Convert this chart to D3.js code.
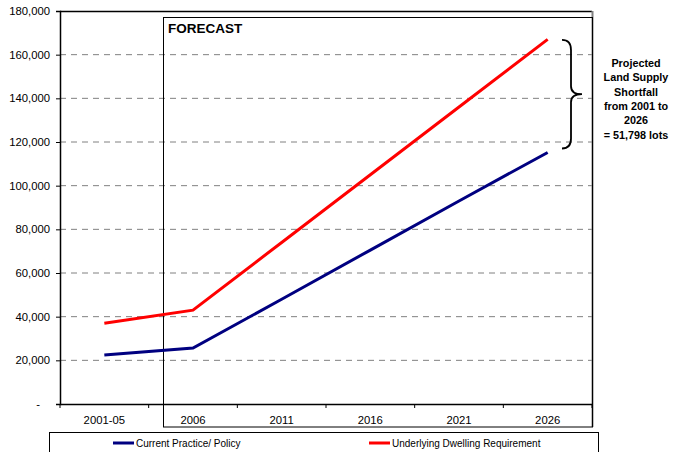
<!DOCTYPE html>
<html><head><meta charset="utf-8">
<script src="https://cdn.jsdelivr.net/npm/d3@7"></script>
<style>body{margin:0;background:#fff}svg{display:block;font-family:"Liberation Sans",Arial,sans-serif}</style>
</head><body><svg id="c" width="680" height="452"></svg>
<script>
const categories = ["2001-05","2006","2011","2016","2021","2026"];
const currentPractice = [22400, 25600, 48000, 70500, 93000, 115200];
const dwellingRequirement = [37000, 43000, 74000, 105000, 136000, 167000];
const yTicks = [0,20000,40000,60000,80000,100000,120000,140000,160000,180000];
const seriesNames = ["Current Practice/ Policy","Underlying Dwelling Requirement"];
const noteLines = ["Projected","Land Supply","Shortfall","from 2001 to","2026","= 51,798 lots"];

const svg = d3.select("#c");
const L=60,R=592,T=11,B=404;
const x = d3.scaleBand().domain(categories).range([L,R]);
const y = d3.scaleLinear().domain([0,180000]).range([B,T]);
const fmt = d => d===0 ? "-" : d3.format(",")(d);

// grid
svg.append("g").selectAll("line").data(yTicks.filter(d=>d>0&&d<180000)).join("line")
  .attr("x1",L).attr("x2",R).attr("y1",d=>y(d)).attr("y2",d=>y(d))
  .attr("stroke","#808080").attr("stroke-width",1).attr("stroke-dasharray","6,5");

// frame
svg.append("line").attr("x1",L).attr("x2",R).attr("y1",T+0.5).attr("y2",T+0.5).attr("stroke","#000").attr("stroke-width",1.3);
svg.append("line").attr("x1",R+0.5).attr("x2",R+0.5).attr("y1",T).attr("y2",427).attr("stroke","#808080").attr("stroke-width",2);

// forecast box
svg.append("rect").attr("x",163.5).attr("y",17.5).attr("width",R-163).attr("height",427-17.5)
  .attr("fill","none").attr("stroke","#000").attr("stroke-width",1);
svg.append("text").attr("x",168).attr("y",33).attr("font-size",13.5).attr("font-weight","bold").text("FORECAST");

// axes
const ya = svg.append("g").attr("transform",`translate(${L},0)`)
  .call(d3.axisLeft(y).tickValues(yTicks).tickFormat(fmt).tickSize(4).tickPadding(6));
ya.select(".domain").attr("stroke","#000").attr("stroke-width",1.5);
ya.selectAll("text").attr("font-size",11.3).attr("fill","#000").attr("font-family","Liberation Sans, Arial");
ya.selectAll(".tick").filter(d=>d===0).select("text").attr("dx",-10);

const xa = svg.append("g").attr("transform",`translate(0,${B})`)
  .call(d3.axisBottom(x).tickSize(0).tickPadding(12));
xa.select(".domain").attr("stroke","#000").attr("stroke-width",1.5);
xa.selectAll("text").attr("font-size",11.3).attr("fill","#000").attr("font-family","Liberation Sans, Arial");
const bounds = categories.map(c=>x(c)).concat([R]);
svg.append("g").selectAll("line").data(bounds).join("line")
  .attr("x1",d=>d).attr("x2",d=>d).attr("y1",B).attr("y2",B+4).attr("stroke","#000");

// lines
const line = d3.line().x((d,i)=>x(categories[i])+x.bandwidth()/2).y(d=>y(d));
svg.append("path").datum(currentPractice).attr("d",line).attr("fill","none").attr("stroke","#000080").attr("stroke-width",3);
svg.append("path").datum(dwellingRequirement).attr("d",line).attr("fill","none").attr("stroke","#ff0000").attr("stroke-width",3);

// brace
const bt = y(dwellingRequirement[5])+0.5, bb = y(currentPractice[5])-4, bm=(bt+bb)/2;
const bx=562, bv=571, tip=582;
svg.append("path").attr("d",
  `M${bx},${bt} Q${bv},${bt} ${bv},${bt+10} L${bv},${bm-8} Q${bv},${bm} ${tip},${bm} Q${bv},${bm} ${bv},${bm+8} L${bv},${bb-10} Q${bv},${bb} ${bx},${bb}`)
  .attr("fill","none").attr("stroke","#000").attr("stroke-width",1.8);

// note
svg.append("text").attr("text-anchor","middle").attr("font-size",10.8).attr("font-weight","bold")
  .selectAll("tspan").data(noteLines).join("tspan").attr("x",636).attr("y",(d,i)=>67+i*14.3).text(d=>d);

// legend
svg.append("rect").attr("x",49.5).attr("y",432.5).attr("width",549).attr("height",30).attr("fill","#fff").attr("stroke","#000");
const leg=[{n:seriesNames[0],c:"#000080",x:113},{n:seriesNames[1],c:"#ff0000",x:369}];
const lg=svg.append("g").selectAll("g").data(leg).join("g");
lg.append("line").attr("x1",d=>d.x).attr("x2",d=>d.x+21).attr("y1",443).attr("y2",443).attr("stroke",d=>d.c).attr("stroke-width",3);
lg.append("text").attr("x",d=>d.x+23).attr("y",447).attr("font-size",10).text(d=>d.n);
</script></body></html>
